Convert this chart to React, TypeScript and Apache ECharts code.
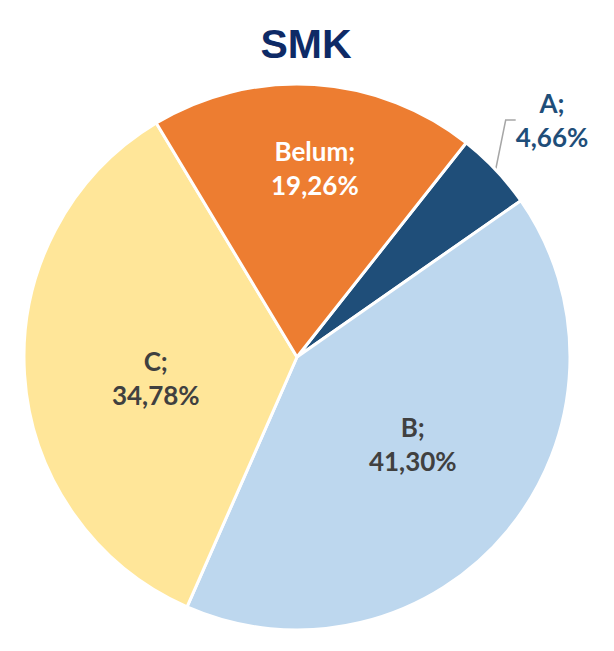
import React, { useEffect, useRef } from "react";
import * as echarts from "echarts";

const categories = ["A", "B", "C", "Belum"];
const values = [4.66, 41.3, 34.78, 19.26];
const colors = ["#1F4E79", "#BDD7EE", "#FFE699", "#ED7D31"];
const labelColors = ["#1F4E79", "#404040", "#404040", "#FFFFFF"];

export default function App() {
  const ref = useRef<HTMLDivElement>(null);
  useEffect(() => {
    if (!ref.current) return;
    const chart = echarts.init(ref.current, undefined, { renderer: "svg" });
    const data = categories.map((c, i) => {
      const item: any = {
        name: c,
        value: values[i],
        itemStyle: { color: colors[i] },
        label: { color: labelColors[i] },
      };
      if (i === 0) {
        item.label = {
          color: labelColors[i],
          position: "outside",
          align: "center",
        };
        item.labelLine = { show: true, length: 8, length2: 10, lineStyle: { color: "#A6A6A6", width: 1.5 } };
      } else {
        item.label.position = "inside";
        item.labelLine = { show: false };
      }
      if (i === 3) item.label.offset = [9, -50];
      if (i === 2) item.label.offset = [-2, 12];
      if (i === 1) item.label.offset = [8, -2];
      return item;
    });
    chart.setOption({
      animation: false,
      backgroundColor: "#FFFFFF",
      title: {
        text: "SMK",
        left: 301,
        top: 18,
        textAlign: "center",
        textStyle: {
          fontFamily: "Liberation Sans",
          fontWeight: "bold",
          fontSize: 41,
          color: "#0E2A66",
        },
      },
      series: [
        {
          type: "pie",
          center: [297, 357],
          radius: 273,
          startAngle: 51.7,
          clockwise: true,
          avoidLabelOverlap: false,
          itemStyle: { borderColor: "#FFFFFF", borderWidth: 3 },
          label: {
            show: true,
            formatter: (p: any) => `${p.name};\n${p.value.toFixed(2).replace(".", ",")}%`,
            fontFamily: "Lato",
            fontWeight: "bold",
            fontSize: 26,
            lineHeight: 34,
            align: "center",
          },
          labelLayout: (p: any) =>
            p.dataIndex === 0
              ? { x: 552, y: 120, align: "center", verticalAlign: "middle" }
              : {},
          data,
        },
      ],
    });
    return () => chart.dispose();
  }, []);
  return <div ref={ref} style={{ position: "fixed", left: 0, top: 0, width: 614, height: 651 }} />;
}
